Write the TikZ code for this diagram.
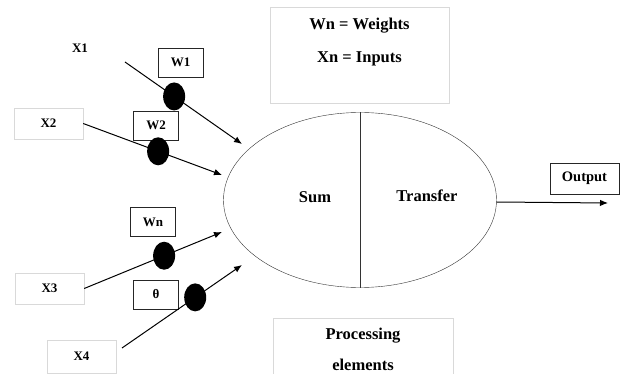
\documentclass[tikz,border=0pt]{standalone}
\usepackage{fontspec}
\setmainfont{Liberation Serif}
\usetikzlibrary{shapes,arrows.meta,positioning,calc}

\begin{document}
\begin{tikzpicture}[x=1pt, y=-1pt,
    wbox/.style={rectangle, draw=black!85, minimum width=45pt, minimum height=29pt,
                 inner sep=1pt, font=\fontsize{13}{15}\selectfont\bfseries},
    xbox/.style={rectangle, draw=black!15, minimum width=69pt, minimum height=31pt,
                 inner sep=1pt, font=\fontsize{13}{15}\selectfont\bfseries},
    dot/.style={ellipse, fill=black, minimum width=22pt, minimum height=28pt, inner sep=0pt},
    big/.style={font=\fontsize{16.5}{20}\selectfont\bfseries},
    arrow/.style={-{Latex[length=8pt,width=6.5pt]}, line width=1pt}]

    \useasboundingbox (0,0) rectangle (625,374);

    % neuron
    \node[ellipse, draw=black!80, minimum width=273pt, minimum height=175pt] (neuron) at (360,200) {};
    \draw[black!80] (neuron.north) -- (neuron.south);
    \node[big] (sum) at (315,197) {Sum};
    \node[big] (transfer) at (427,196) {Transfer};

    % legend and caption
    \node[xbox, minimum width=179pt, minimum height=96pt] (legend) at (359.5,55) {};
    \node[big, align=center] (legtext) at (359.5,42) {Wn = Weights\\[13pt]Xn = Inputs};
    \node[xbox, minimum width=180pt, minimum height=58pt] (proc) at (363,347) {};
    \node[big, align=center] (proctext) at (363,349) {Processing\\[11pt]elements};

    % inputs
    \node[font=\fontsize{13}{15}\selectfont\bfseries] (x1) at (80,48) {X1};
    \node[xbox] (x2) at (48.5,123.5) {X2};
    \node[xbox] (x3) at (49.5,288.5) {X3};
    \node[xbox, minimum height=33pt] (x4) at (81.5,356.5) {X4};

    % weights
    \node[wbox] (w1) at (180.5,62.5) {W1};
    \node[wbox] (w2) at (156,125.5) {W2};
    \node[wbox] (wn) at (153,222) {Wn};
    \node[wbox] (theta) at (156,294.5) {θ};

    \coordinate (s1) at (125,62);
    \coordinate (s4) at (122,348);
    \coordinate (e1) at (242,144);
    \coordinate (e2) at (222,175);
    \coordinate (e3) at (222,232);
    \coordinate (e4) at (242,265);
    \coordinate (e5) at (608,203);

    \draw[arrow] (s1) -- node[dot, pos=0.42] (d1) {} (e1);
    \draw[arrow] (x2.east) -- node[dot, pos=0.54] (d2) {} (e2);
    \draw[arrow] (x3.east) -- node[dot, pos=0.58] (d3) {} (e3);
    \draw[arrow] (s4) -- node[dot, pos=0.61] (d4) {} (e4);

    % output
    \draw[arrow] ([yshift=-2pt]neuron.east) -- (e5);
    \node[wbox, minimum width=69pt, minimum height=31pt, font=\fontsize{14.5}{16}\selectfont\bfseries] (out) at (584.5,178.5) {Output};
\end{tikzpicture}
\end{document}
